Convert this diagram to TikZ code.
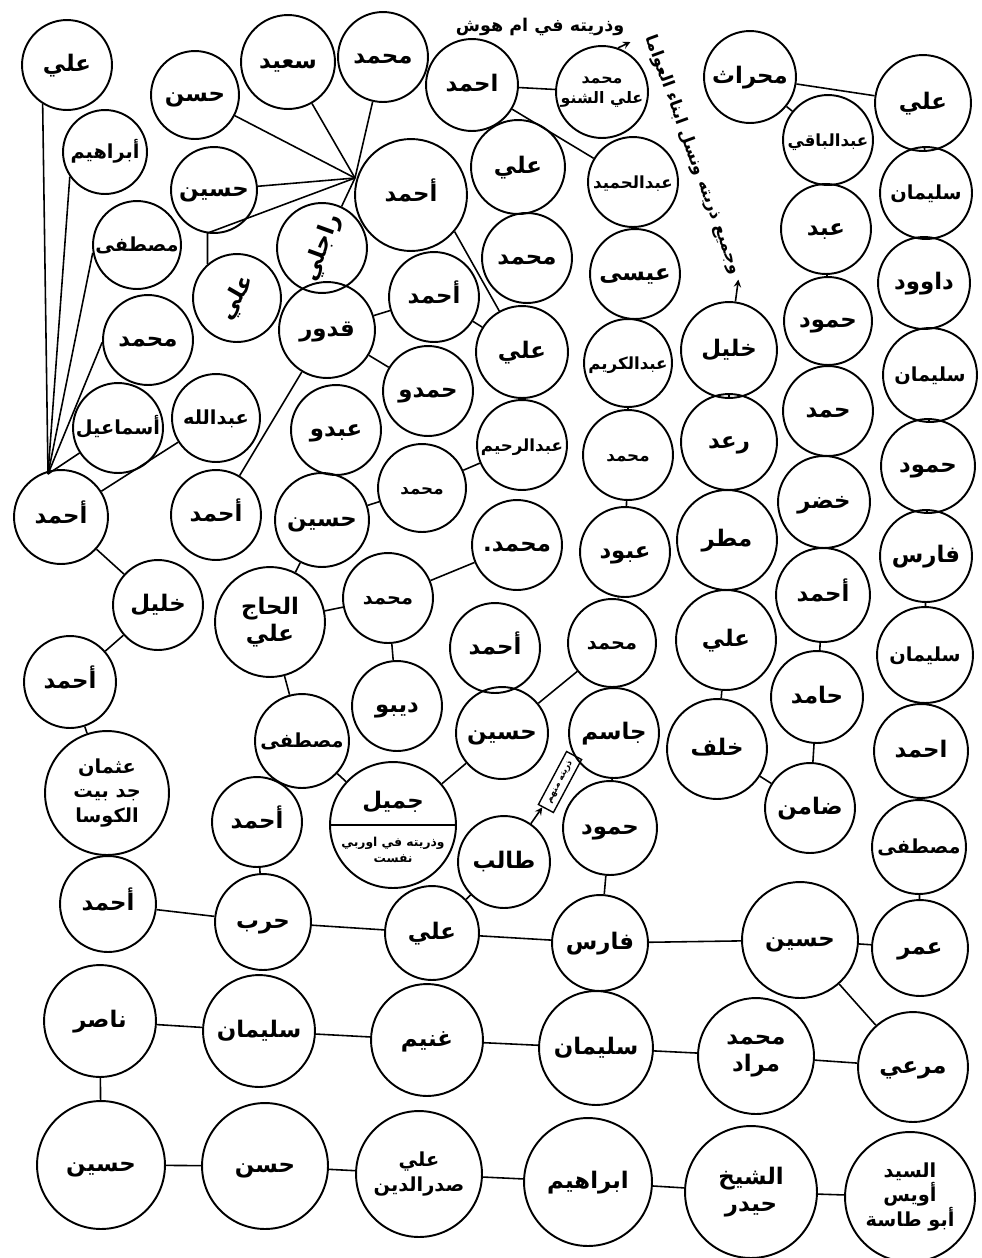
\documentclass[tikz,border=0pt]{standalone}
\usepackage{fontspec}
\newfontfamily\arabicfont[Script=Arabic]{DejaVu Sans Bold}
\TeXXeTstate=1
\newcommand{\rl}[1]{\beginR#1\endR}
\begin{document}
\begin{tikzpicture}[
    x=0.02cm, y=-0.02cm,
    fam/.style={circle, draw, line width=1.1pt, inner sep=0pt,
                minimum size=#1*0.04cm, align=center,
                text height=10pt, text depth=3pt,
                font=\arabicfont\fontsize{13}{15}\selectfont},
    fam/.default=46,
    multi/.style={text height=, text depth=},
    smalltxt/.style={font=\arabicfont\fontsize{9.5}{12}\selectfont},
    midtxt/.style={font=\arabicfont\fontsize{11}{14}\selectfont},
    lnk/.style={line width=0.9pt},
    arr/.style={->, line width=0.9pt, >=stealth}
]
\useasboundingbox (0,0) rectangle (981,1258);

% top left group
\node[fam=45] (aliA) at (67,65) {\rl{علي}};
\node[fam=44] (hasanA) at (195,95) {\rl{حسن}};
\node[fam=47] (saeed) at (288,62) {\rl{سعيد}};
\node[fam=42, midtxt] (ibrahimA) at (105,152) {\rl{أبراهيم}};
\node[fam=43] (husainA) at (214,190) {\rl{حسين}};
\node[fam=44, midtxt] (mustafaA) at (137,245) {\rl{مصطفى}};
\node[fam=44, rotate=60] (aliB) at (237,298) {\rl{علي}};
\node[fam=45, rotate=70] (rajli) at (322,248) {\rl{راجلي}};
\node[fam=45] (muhA) at (383,57) {\rl{محمد}};
\node[fam=46] (ahmadA) at (472,85) {\rl{احمد}};
\node[fam=46, multi, font=\arabicfont\fontsize{9}{11}\selectfont] (muhAli) at (602,92) {\rl{محمد}\\\rl{علي الشنو}};
\node[fam=56] (hub) at (411,195) {\rl{أحمد}};
\node[fam=47] (aliC) at (518,167) {\rl{علي}};
\node[fam=45, smalltxt] (abdulhamid) at (633,182) {\rl{عبدالحميد}};
\node[fam=45] (muhB) at (527,258) {\rl{محمد}};
\node[fam=45] (isa) at (635,274) {\rl{عيسى}};
\node[fam=45] (ahmadB) at (434,297) {\rl{أحمد}};

% right columns
\node[fam=46] (mihrath) at (750,77) {\rl{محراث}};
\node[fam=48] (aliD) at (923,103) {\rl{علي}};
\node[fam=45, smalltxt] (abdulbaqi) at (828,140) {\rl{عبدالباقي}};
\node[fam=46, midtxt] (sulaimanA) at (926,193) {\rl{سليمان}};
\node[fam=45] (abd) at (826,229) {\rl{عبد}};
\node[fam=46] (dawood) at (924,283) {\rl{داوود}};
\node[fam=44] (hammudA) at (828,321) {\rl{حمود}};
\node[fam=48] (khalilR) at (729,350) {\rl{خليل}};
\node[fam=45] (hamad) at (828,411) {\rl{حمد}};
\node[fam=47, midtxt] (sulaimanB) at (930,375) {\rl{سليمان}};
\node[fam=48] (raad) at (729,442) {\rl{رعد}};
\node[fam=46] (khadr) at (824,502) {\rl{خضر}};
\node[fam=47] (hammudB) at (928,466) {\rl{حمود}};
\node[fam=50] (matar) at (727,540) {\rl{مطر}};
\node[fam=46] (farisA) at (926,556) {\rl{فارس}};
\node[fam=47] (ahmadE) at (823,595) {\rl{أحمد}};
\node[fam=50] (aliF) at (726,640) {\rl{علي}};
\node[fam=48, midtxt] (sulaimanC) at (925,655) {\rl{سليمان}};
\node[fam=46] (hamid) at (817,697) {\rl{حامد}};
\node[fam=50] (khalaf) at (717,749) {\rl{خلف}};
\node[fam=47] (ahmadF) at (921,751) {\rl{احمد}};
\node[fam=45] (damin) at (810,808) {\rl{ضامن}};
\node[fam=47, midtxt] (mustafaB) at (919,847) {\rl{مصطفى}};

% middle
\node[fam=45] (muhC) at (148,340) {\rl{محمد}};
\node[fam=48] (qaddur) at (327,330) {\rl{قدور}};
\node[fam=45, midtxt] (ismail) at (118,428) {\rl{أسماعيل}};
\node[fam=44, midtxt] (abdullah) at (216,418) {\rl{عبدالله}};
\node[fam=45] (abdu) at (336,430) {\rl{عبدو}};
\node[fam=45] (hamdu) at (428,391) {\rl{حمدو}};
\node[fam=46] (aliE) at (522,352) {\rl{علي}};
\node[fam=44, smalltxt] (abdulkarim) at (628,363) {\rl{عبدالكريم}};
\node[fam=45, smalltxt] (abdulrahim) at (522,445) {\rl{عبدالرحيم}};
\node[fam=47] (ahmadL) at (61,517) {\rl{أحمد}};
\node[fam=45] (ahmadC) at (216,515) {\rl{أحمد}};
\node[fam=47] (husainB) at (322,520) {\rl{حسين}};
\node[fam=44, smalltxt] (majd) at (422,488) {\rl{محمد}};
\node[fam=45, smalltxt] (muhD) at (628,455) {\rl{محمد}};
\node[fam=45] (muhE) at (517,545) {\rl{محمد.}};
\node[fam=45] (abbud) at (625,552) {\rl{عبود}};
\node[fam=45] (khalilL) at (158,605) {\rl{خليل}};
\node[fam=55, multi] (hajAli) at (270,622) {\rl{الحاج}\\\rl{علي}};
\node[fam=45, midtxt] (muhF) at (388,598) {\rl{محمد}};
\node[fam=45] (ahmadD) at (495,648) {\rl{أحمد}};
\node[fam=44, midtxt] (muhG) at (612,643) {\rl{محمد}};

% lower middle
\node[fam=46] (ahmadG) at (70,682) {\rl{أحمد}};
\node[fam=62, multi, midtxt] (uthman) at (107,793) {\rl{عثمان}\\\rl{جد بيت}\\\rl{الكوسا}};
\node[fam=47, midtxt] (mustafaC) at (302,741) {\rl{مصطفى}};
\node[fam=45] (dibu) at (397,706) {\rl{ديبو}};
\node[fam=46] (husainC) at (502,733) {\rl{حسين}};
\node[fam=45] (jasim) at (614,733) {\rl{جاسم}};
\node[fam=45] (ahmadH) at (257,822) {\rl{أحمد}};
\node[fam=63] (jamil) at (393,825) {};
\node[font=\arabicfont\fontsize{13}{15}\selectfont] (jamilT) at (393,802) {\rl{جميل}};
\node[font=\arabicfont\fontsize{7}{9}\selectfont, align=center] (jamilB) at (393,850) {\rl{وذريته في اوربي}\\\rl{نفست}};
\node[draw, line width=0.8pt, rotate=62, minimum width=1.2cm, minimum height=0.34cm,
      inner sep=1pt, font=\arabicfont\fontsize{5}{6}\selectfont] (box) at (560,782) {\rl{ذريته منهم}};
\node[fam=46] (talib) at (504,862) {\rl{طالب}};
\node[fam=47] (hammudC) at (610,828) {\rl{حمود}};

% bottom rows
\node[fam=48] (ahmadI) at (108,904) {\rl{أحمد}};
\node[fam=48] (harb) at (263,922) {\rl{حرب}};
\node[fam=47] (aliG) at (432,933) {\rl{علي}};
\node[fam=48] (farisB) at (600,943) {\rl{فارس}};
\node[fam=58] (husainD) at (800,940) {\rl{حسين}};
\node[fam=48] (umar) at (920,948) {\rl{عمر}};
\node[fam=56] (nasir) at (100,1021) {\rl{ناصر}};
\node[fam=56] (sulaimanD) at (259,1031) {\rl{سليمان}};
\node[fam=56] (ghunaim) at (427,1040) {\rl{غنيم}};
\node[fam=57] (sulaimanE) at (596,1048) {\rl{سليمان}};
\node[fam=58, multi] (muhMurad) at (756,1056) {\rl{محمد}\\\rl{مراد}};
\node[fam=55] (marai) at (913,1067) {\rl{مرعي}};
\node[fam=64] (husainE) at (101,1165) {\rl{حسين}};
\node[fam=63] (hasanB) at (265,1166) {\rl{حسن}};
\node[fam=63, multi, midtxt] (aliSadr) at (419,1174) {\rl{علي}\\\rl{صدرالدين}};
\node[fam=64] (ibrahimB) at (588,1182) {\rl{ابراهيم}};
\node[fam=66, multi] (sheikh) at (751,1192) {\rl{الشيخ}\\\rl{حيدر}};
\node[fam=65, multi, midtxt] (sayyid) at (910,1197) {\rl{السيد}\\\rl{أويس}\\\rl{أبو طاسة}};

% notes
\node[font=\arabicfont\fontsize{10}{12}\selectfont] (note1) at (540,27) {\rl{وذريته في ام هوش}};
\node[font=\arabicfont\fontsize{9.5}{12}\selectfont, rotate=-70] (note2) at (693,155) {\rl{وجميع ذريته ونسل ابناء العواما}};

% fan points
\coordinate (fanL) at (48,474);
\coordinate (fanH) at (355,178);

% links
\draw[lnk] (aliA.238) -- (fanL);
\draw[lnk] (ibrahimA.215) -- (fanL);
\draw[lnk] (mustafaA.190) -- (fanL);
\draw[lnk] (muhC.183) -- (fanL);
\draw[lnk] (ismail.213) -- (fanL);
\draw[lnk] (hasanA) -- (fanH);
\draw[lnk] (saeed) -- (fanH);
\draw[lnk] (muhA) -- (fanH);
\draw[lnk] (husainA) -- (fanH);
\draw[lnk] (rajli) -- (fanH);
\draw[lnk] (aliB.71) -- ++(0,-31) -- (fanH);
\draw[lnk] (hub.-40) -- (aliE.119);
\draw[lnk] (muhAli) -- (ahmadA);
\draw[lnk] (ahmadA) -- (abdulhamid);
\draw[lnk] (aliC) -- (muhB);
\draw[lnk] (abdulhamid) -- (isa);
\draw[lnk] (isa) -- (abdulkarim);
\draw[lnk] (abdulkarim) -- (muhD);
\draw[lnk] (muhD) -- (abbud);
\draw[lnk] (abbud) -- (muhG);
\draw[lnk] (muhG) -- (jasim);
\draw[lnk] (muhG) -- (husainC);
\draw[lnk] (jasim) -- (hammudC);
\draw[lnk] (jasim) -- (box);
\draw[arr] (talib) -- (box);
\draw[lnk] (husainC) -- (jamil);
\draw[lnk] (jamil.west) -- (jamil.east);
\draw[lnk] (jamil) -- (mustafaC);
\draw[lnk] (mustafaC) -- (hajAli);
\draw[lnk] (hajAli) -- (husainB);
\draw[lnk] (hajAli) -- (muhF);
\draw[lnk] (muhF) -- (dibu);
\draw[lnk] (muhF) -- (muhE);
\draw[lnk] (husainB) -- (majd);
\draw[lnk] (majd) -- (abdulrahim);
\draw[lnk] (qaddur) -- (ahmadC);
\draw[lnk] (qaddur) -- (hamdu);
\draw[lnk] (qaddur) -- (ahmadB);
\draw[lnk] (ahmadB) -- (aliE);
\draw[lnk] (abdullah) -- (ahmadL);
\draw[lnk] (ahmadL) -- (khalilL);
\draw[lnk] (khalilL) -- (ahmadG);
\draw[lnk] (ahmadG) -- (uthman);
\draw[lnk] (uthman) -- (ahmadI);
\draw[lnk] (ahmadI) -- (harb);
\draw[lnk] (harb) -- (ahmadH);
\draw[lnk] (harb) -- (aliG);
\draw[lnk] (aliG) -- (talib);
\draw[lnk] (aliG) -- (farisB);
\draw[lnk] (farisB) -- (hammudC);
\draw[lnk] (farisB) -- (husainD);
\draw[lnk] (husainD) -- (umar);
\draw[lnk] (husainD) -- (marai);
\draw[lnk] (marai) -- (muhMurad);
\draw[lnk] (muhMurad) -- (sulaimanE);
\draw[lnk] (sulaimanE) -- (ghunaim);
\draw[lnk] (ghunaim) -- (sulaimanD);
\draw[lnk] (sulaimanD) -- (nasir);
\draw[lnk] (nasir) -- (husainE);
\draw[lnk] (husainE) -- (hasanB);
\draw[lnk] (hasanB) -- (aliSadr);
\draw[lnk] (aliSadr) -- (ibrahimB);
\draw[lnk] (ibrahimB) -- (sheikh);
\draw[lnk] (sheikh) -- (sayyid);
% right side chains
\draw[lnk] (mihrath) -- (aliD);
\draw[lnk] (aliD) -- (sulaimanA);
\draw[lnk] (sulaimanA) -- (dawood);
\draw[lnk] (dawood) -- (sulaimanB);
\draw[lnk] (sulaimanB) -- (hammudB);
\draw[lnk] (hammudB) -- (farisA);
\draw[lnk] (farisA) -- (sulaimanC);
\draw[lnk] (sulaimanC) -- (ahmadF);
\draw[lnk] (ahmadF) -- (mustafaB);
\draw[lnk] (mustafaB) -- (umar);
\draw[lnk] (mihrath) -- (abdulbaqi);
\draw[lnk] (abdulbaqi) -- (abd);
\draw[lnk] (abd) -- (hammudA);
\draw[lnk] (hammudA) -- (hamad);
\draw[lnk] (hamad) -- (khadr);
\draw[lnk] (khadr) -- (ahmadE);
\draw[lnk] (ahmadE) -- (hamid);
\draw[lnk] (hamid) -- (damin);
\draw[lnk] (damin) -- (khalaf);
\draw[lnk] (khalaf) -- (aliF);
\draw[lnk] (aliF) -- (matar);
\draw[lnk] (matar) -- (raad);
\draw[lnk] (raad) -- (khalilR);
\draw[arr] (khalilR) -- (note2.east);
\draw[arr] (muhAli.70) -- (note1.south east);
\end{tikzpicture}
\end{document}
